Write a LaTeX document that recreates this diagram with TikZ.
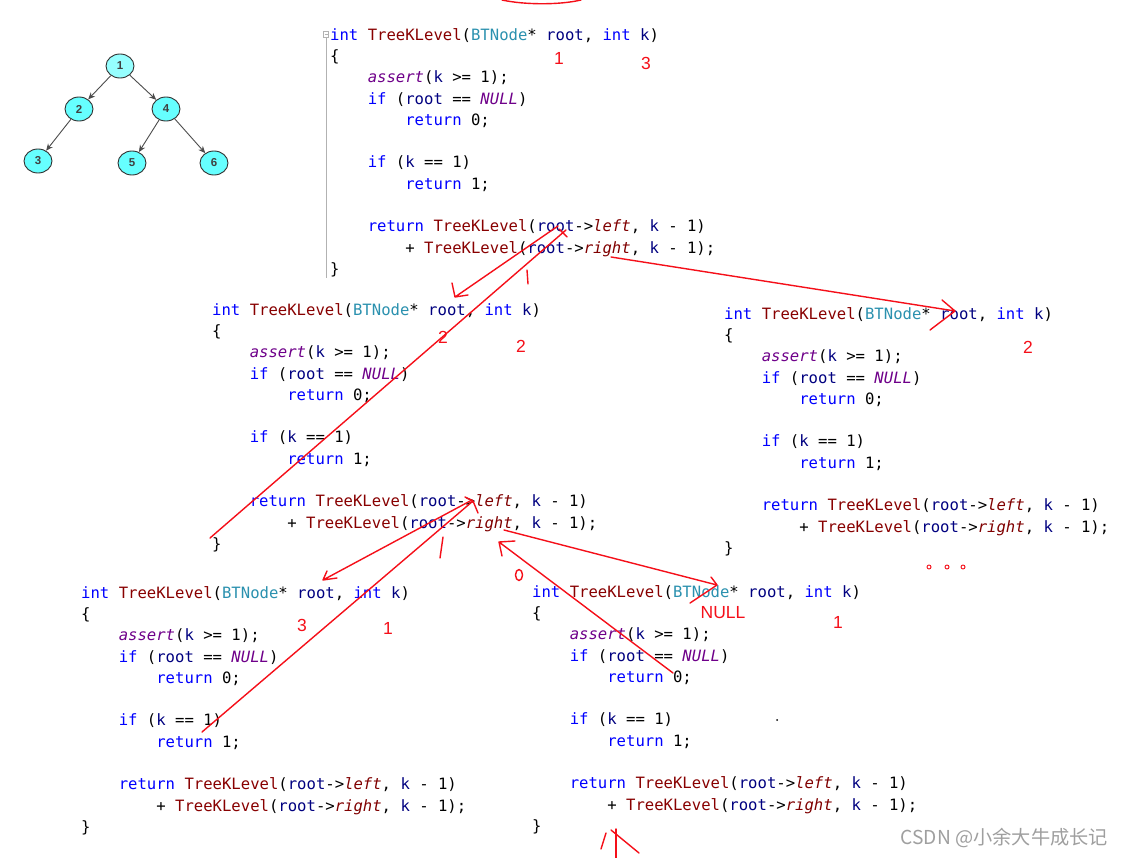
\documentclass[tikz,border=0pt]{standalone}
\usepackage{fontspec}
\setmainfont{Liberation Sans}
\setmonofont{DejaVu Sans Mono}
\newfontfamily\cjkfont{Noto Sans CJK SC}
\usepackage{xcolor}
\usepackage{tikz}
\usetikzlibrary{shapes.geometric, arrows.meta}
\definecolor{kwcolor}{RGB}{0, 0, 255}
\definecolor{fncolor}{RGB}{136, 0, 0}
\definecolor{tycolor}{RGB}{43, 145, 175}
\definecolor{maccolor}{RGB}{111, 0, 138}
\definecolor{prmcolor}{RGB}{0, 0, 128}
\definecolor{fldcolor}{RGB}{128, 0, 0}
\definecolor{inkcolor}{RGB}{245, 15, 25}
\definecolor{nodecolor}{RGB}{102, 255, 255}
\definecolor{rootcolor}{RGB}{150, 255, 255}
\newcommand{\ckw}[1]{\textcolor{kwcolor}{#1}}
\newcommand{\cfn}[1]{\textcolor{fncolor}{#1}}
\newcommand{\cty}[1]{\textcolor{tycolor}{#1}}
\newcommand{\cmac}[1]{\textcolor{maccolor}{\itshape #1}}
\newcommand{\cprm}[1]{\textcolor{prmcolor}{#1}}
\newcommand{\cfld}[1]{\textcolor{fldcolor}{\itshape #1}}
\newcommand{\cind}{\hphantom{0000}}
\newcommand{\klevelcode}{%
\strut\ckw{int} \cfn{TreeKLevel}(\cty{BTNode}* \cprm{root}, \ckw{int} \cprm{k})\\
\strut\{\\
\strut\cind\cmac{assert}(\cprm{k} >= 1);\\
\strut\cind\ckw{if} (\cprm{root} == \cmac{NULL})\\
\strut\cind\cind\ckw{return} 0;\\
\strut\\
\strut\cind\ckw{if} (\cprm{k} == 1)\\
\strut\cind\cind\ckw{return} 1;\\
\strut\\
\strut\cind\ckw{return} \cfn{TreeKLevel}(\cprm{root}->\cfld{left}, \cprm{k} - 1)\\
\strut\cind\cind+ \cfn{TreeKLevel}(\cprm{root}->\cfld{right}, \cprm{k} - 1);\\
\strut\}}
\tikzstyle{code} = [anchor=north west, inner sep=0pt, align=left, font=\ttfamily\fontsize{15.6}{21.3}\selectfont]
\tikzstyle{tnode} = [ellipse, draw=black!80, line width=0.9pt, fill=nodecolor, minimum width=28pt, minimum height=24pt, inner sep=0pt, text=black!75, font=\fontsize{11.5}{13}\selectfont\bfseries]
\tikzstyle{tedge} = [draw=black!70, line width=0.9pt, -{Stealth[length=7pt,width=6pt]}]
\tikzstyle{ink} = [draw=inkcolor, line width=1.4pt, line cap=round, line join=round]
\tikzstyle{redlabel} = [inner sep=0pt, text=inkcolor, font=\fontsize{17.5}{20}\selectfont]

\begin{document}
\begin{tikzpicture}[x=1pt, y=-1pt]
\fill[white] (0,0) rectangle (1123,858);
\useasboundingbox (0,0) rectangle (1123,858);

% Tree
\node (n1) [tnode, fill=rootcolor] at (120,66) {1};
\node (n2) [tnode] at (79,109) {2};
\node (n4) [tnode] at (166,109) {4};
\node (n3) [tnode] at (38,161) {3};
\node (n5) [tnode] at (132,163) {5};
\node (n6) [tnode] at (214,163) {6};
\draw [tedge] (n1) -- (n2);
\draw [tedge] (n1) -- (n4);
\draw [tedge] (n2) -- (n3);
\draw [tedge] (n4) -- (n5);
\draw [tedge] (n4) -- (n6);

% Calls
\node (lvl1) [code] at (330,25) {\klevelcode};
\node (lvl2a) [code] at (212,300) {\klevelcode};
\node (lvl2b) [code] at (724,304) {\klevelcode};
\node (lvl3a) [code] at (81,583) {\klevelcode};
\node (lvl3b) [code] at (532,582) {\klevelcode};

% Editor fold line
\draw [gray!60, line width=0.8pt] (326,38) -- (326,278);
\draw [gray!60, line width=0.6pt] (323.5,31) rectangle (328.5,37);
\draw [gray!60, line width=0.6pt] (324.5,34) -- (327.5,34);

% Arrow ends
\coordinate (a1s) at (558,226);
\coordinate (a1t) at (455,297);
\coordinate (r1s) at (210,538);
\coordinate (r1t) at (566,230);
\coordinate (a2s) at (611,257);
\coordinate (a2t) at (955,311);
\coordinate (a3s) at (472,500);
\coordinate (a3t) at (323,580);
\coordinate (r3s) at (202,732);
\coordinate (r3t) at (473,501);
\coordinate (a4s) at (504,530);
\coordinate (a4t) at (717,585);
\coordinate (r4s) at (673,673);
\coordinate (r4t) at (499,542);

% Arrows
\draw [ink] (502,0) .. controls (525,5) and (560,5) .. (581,0);
\draw [ink] (a1s) -- (a1t) (452,283) -- (a1t) -- (468,295);
\draw [ink] (r1s) -- (r1t) (559,229) -- (567,237);
\draw [ink] (a2s) -- (a2t) (942,300) -- (a2t) -- (930,330);
\draw [ink] (a3s) -- (a3t) (327,571) -- (a3t) -- (337,578);
\draw [ink] (r3s) -- (r3t) (465,497) -- (r3t) -- (478,513);
\draw [ink] (a4s) -- (a4t) (711,577) -- (a4t) -- (690,603);
\draw [ink] (r4s) -- (r4t) (515,541) -- (r4t) -- (502,556);

% Handwritten marks
\draw [ink] (527,270) -- (528,284);
\draw [ink] (443,537) -- (440,558);
\draw [ink] (519,575) ellipse (3.5pt and 5.5pt);
\draw [ink] (606,833) -- (601,849);
\draw [ink] (616,829) -- (616,858);
\draw [ink] (611,830) -- (639,853);
\foreach \x in {929,947,963}
  \draw [inkcolor, line width=0.9pt] (\x,567) circle (2pt);
\fill (777,720) circle (1pt);

% Labels
\node (k1) [redlabel] at (559,58) {1};
\node (k3) [redlabel] at (646,63) {3};
\node (k2a) [redlabel] at (443,337) {2};
\node (k2b) [redlabel] at (521,346) {2};
\node (k2c) [redlabel] at (1028,347) {2};
\node (k3a) [redlabel] at (302,625) {3};
\node (k1a) [redlabel] at (388,628) {1};
\node (null) [redlabel] at (723,613) {NULL};
\node (k1b) [redlabel] at (838,622) {1};

\node (wm) [anchor=east, inner sep=0pt, text=gray!75, font=\cjkfont\fontsize{19.2}{21}\selectfont] at (1108,838) {CSDN @小余大牛成长记};

\end{tikzpicture}
\end{document}
